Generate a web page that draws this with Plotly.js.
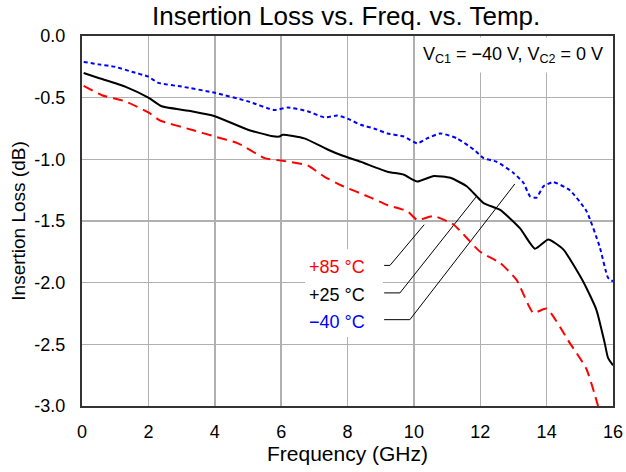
<!DOCTYPE html>
<html>
<head>
<meta charset="utf-8">
<script src="https://cdn.plot.ly/plotly-3.0.1.min.js"></script>
<style>html,body{margin:0;padding:0;background:#fff;}#chart{width:626px;height:472px;}</style>
</head>
<body>
<div id="chart"></div>
<script>
// -40 °C
var freqM40 = [0.05,0.5,1.0,1.5,2.0,2.3,3.0,4.0,5.0,5.8,6.2,6.8,7.3,7.7,8.0,8.4,8.8,9.2,9.7,10.1,10.4,10.8,11.3,11.8,12.1,12.5,13.0,13.3,13.5,13.7,13.9,14.2,14.7,15.2,15.6,15.85,16.0];
var lossM40 = [-0.21,-0.23,-0.25,-0.29,-0.33,-0.38,-0.41,-0.46,-0.53,-0.60,-0.58,-0.61,-0.66,-0.645,-0.67,-0.72,-0.75,-0.79,-0.815,-0.87,-0.83,-0.79,-0.83,-0.92,-0.99,-1.02,-1.11,-1.19,-1.30,-1.31,-1.22,-1.185,-1.25,-1.42,-1.71,-1.96,-1.99];
// +25 °C
var freqP25 = [0.05,0.5,1.3,2.0,2.4,3.3,4.0,5.0,5.7,5.95,6.05,6.7,7.4,7.8,8.4,9.2,9.7,10.1,10.6,11.1,11.6,12.1,12.6,13.2,13.65,14.05,14.5,15.1,15.5,15.75,15.85,16.0];
var lossP25 = [-0.30,-0.34,-0.41,-0.50,-0.57,-0.61,-0.65,-0.76,-0.81,-0.815,-0.80,-0.83,-0.92,-0.965,-1.02,-1.10,-1.125,-1.18,-1.135,-1.15,-1.22,-1.355,-1.41,-1.56,-1.725,-1.65,-1.73,-1.99,-2.22,-2.49,-2.61,-2.67];
// +85 °C
var freqP85 = [0.05,0.6,1.3,2.0,2.35,3.3,4.0,4.7,5.5,6.0,6.8,7.3,7.8,8.7,9.2,9.8,10.1,10.6,11.2,12.0,12.6,13.1,13.6,14.0,14.7,15.2,15.55];
var lossP85 = [-0.405,-0.48,-0.53,-0.62,-0.685,-0.76,-0.815,-0.87,-0.99,-1.01,-1.05,-1.14,-1.21,-1.31,-1.37,-1.42,-1.49,-1.46,-1.53,-1.75,-1.84,-1.98,-2.245,-2.21,-2.49,-2.70,-3.0];

var labels = ["+85 °C", "+25 °C", "\u221240 °C"];
var labelColors = ["#ff0000", "#000000", "#0000ff"];
var labelY = [-1.87, -2.097, -2.316];
// leader lines: [x0, x1, x2], [y0, y0, y2]
var leadX = [[9.105, 9.28, 10.31], [9.105, 9.58, 11.87], [9.105, 9.88, 13.04]];
var leadY = [[-1.86, -1.86, -1.53], [-2.083, -2.083, -1.306], [-2.30, -2.30, -1.20]];

var xTicks = [0,2,4,6,8,10,12,14,16];
var yTicks = [0,-0.5,-1.0,-1.5,-2.0,-2.5,-3.0];
var yTickText = ["0.0","-0.5","-1.0","-1.5","-2.0","-2.5","-3.0"];

var traces = [];
for (var i = 0; i < 3; i++) {
  traces.push({x: leadX[i], y: leadY[i], mode: 'lines', line: {color: '#000', width: 1}, hoverinfo: 'skip', showlegend: false});
}
traces.push({x: freqP85, y: lossP85, mode: 'lines', line: {color: '#ff0000', width: 2, dash: '10px,6px', shape: 'spline', smoothing: 0.5}, showlegend: false});
traces.push({x: freqP25, y: lossP25, mode: 'lines', line: {color: '#000000', width: 2, shape: 'spline', smoothing: 0.5}, showlegend: false});
traces.push({x: freqM40, y: lossM40, mode: 'lines', line: {color: '#0000ff', width: 2, dash: '4px,3px', shape: 'spline', smoothing: 0.5}, showlegend: false});

var annotations = [];
for (var j = 0; j < 3; j++) {
  annotations.push({x: 8.6, y: labelY[j], xref: 'x', yref: 'y', text: labels[j], showarrow: false, xanchor: 'right', yanchor: 'middle', font: {size: 18, color: labelColors[j]}});
}
annotations.push({x: 1, y: 1, xref: 'paper', yref: 'paper', xanchor: 'right', yanchor: 'top', xshift: -2, yshift: -1,
  text: 'V<sub>C1</sub> = \u221240 V, V<sub>C2</sub> = 0 V', showarrow: false, bgcolor: '#ffffff', width: 192, height: 32,
  font: {size: 18, color: '#000'}});

var layout = {
  width: 626, height: 472,
  margin: {l: 82, r: 13, t: 36, b: 66},
  paper_bgcolor: '#fff', plot_bgcolor: '#fff',
  font: {family: '"Liberation Sans", Arial, sans-serif', color: '#000'},
  title: {text: 'Insertion Loss vs. Freq. vs. Temp.', font: {size: 26, color: '#000'}, x: 0.553, xanchor: 'center', y: 0.966, yanchor: 'middle'},
  xaxis: {range: [0, 16], tickvals: xTicks, ticktext: xTicks.map(String), showgrid: true, gridcolor: '#b0b0b0', gridwidth: 1.5,
    showline: true, linecolor: '#333', linewidth: 2, mirror: true, ticks: '', ticklabelstandoff: 8, zeroline: false,
    tickfont: {size: 18}, title: {text: 'Frequency (GHz)', font: {size: 21}, standoff: 4}},
  yaxis: {range: [-3, 0], tickvals: yTicks, ticktext: yTickText, showgrid: true, gridcolor: '#b0b0b0', gridwidth: 1.5,
    showline: true, linecolor: '#333', linewidth: 2, mirror: true, ticks: '', ticklabelstandoff: 11, zeroline: false,
    tickfont: {size: 18}, title: {text: 'Insertion Loss (dB)', font: {size: 19}, standoff: 4}},
  shapes: [{type: 'rect', xref: 'x', yref: 'y', x0: 6.72, x1: 9.07, y0: -2.44, y1: -1.73, fillcolor: '#fff', line: {width: 0}, layer: 'between'}],
  annotations: annotations
};

Plotly.newPlot('chart', traces, layout, {staticPlot: true, displayModeBar: false});
</script>
</body>
</html>
